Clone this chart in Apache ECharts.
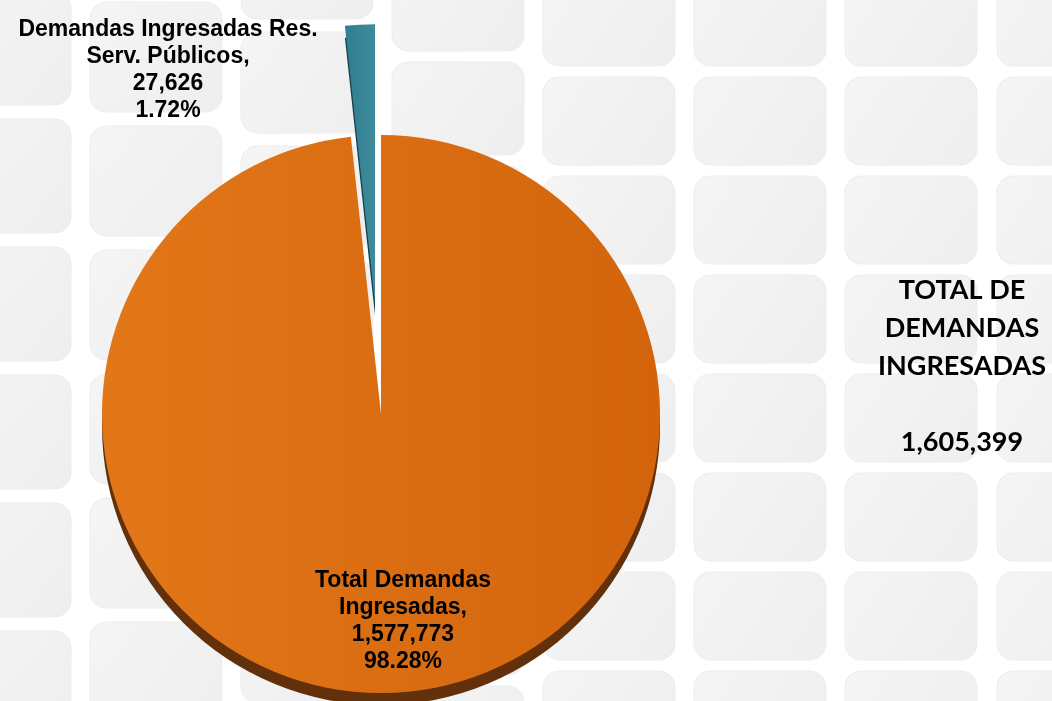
<!DOCTYPE html>
<html>
<head>
<meta charset="utf-8">
<title>Total de demandas ingresadas</title>
<script src="https://cdn.jsdelivr.net/npm/echarts@6/dist/echarts.min.js"></script>
<style>
  html, body { margin: 0; padding: 0; background: #fff; }
  #chart { width: 1052px; height: 701px; }
</style>
</head>
<body>
<div id="chart"></div>
<script>
// datos del gráfico
const categories = ['Total Demandas\nIngresadas', 'Demandas Ingresadas Res.\nServ. Públicos'];
const values = [1577773, 27626];
const totalTitle = 'TOTAL DE\nDEMANDAS\nINGRESADAS';

const fmt = n => n.toLocaleString('en-US');
const total = values.reduce((a, b) => a + b, 0);
const pct = v => (v / total * 100).toFixed(2) + '%';
const labelText = i => categories[i] + ',\n' + fmt(values[i]) + '\n' + pct(values[i]);

const chartDom = document.getElementById('chart');
const myChart = echarts.init(chartDom);

const colors = {
    orange: new echarts.graphic.LinearGradient(0, 0, 1, 0, [
        { offset: 0, color: '#E27719' },
        { offset: 1, color: '#D3640C' }
    ]),
    teal: new echarts.graphic.LinearGradient(0, 0, 1, 0, [
        { offset: 0, color: '#2F7D8F' },
        { offset: 1, color: '#3E8B9C' }
    ]),
    orangeShadow: '#62300A',
    tealShadow: '#163F49'
};

const labelFont = {
    fill: '#000',
    fontFamily: 'Liberation Sans',
    fontWeight: 'bold',
    fontSize: 23,
    lineHeight: 27
};

// fondo: cuadrícula de baldosas grises (decoración)
const colX = [-61, 90, 241, 392, 543, 694, 845, 997];
const colP = [128, 124, 114, 104, 99, 99, 99, 99];
const colY = [247, 250, 260, 270, 275, 275, 275, 275];
const tiles = [];
colX.forEach((x, c) => {
    for (let k = -3; k <= 4; k++) {
        const y = colY[c] + k * colP[c];
        tiles.push({
            type: 'rect',
            shape: { x: x, y: y, width: 132, height: Math.round(colP[c] * 0.89), r: 16 },
            style: {
                fill: new echarts.graphic.LinearGradient(0, 0, 1, 1, [
                    { offset: 0, color: '#F5F5F5' },
                    { offset: 1, color: '#EEEEEE' }
                ]),
                stroke: '#EDEDED',
                lineWidth: 1
            },
            silent: true
        });
    }
});

const pieData = categories.map((name, i) => ({
    name: name,
    value: values[i],
    selected: i === 1,
    itemStyle: { color: i === 0 ? colors.orange : colors.teal },
    label: { show: i === 0 }
}));

const shadowData = categories.map((name, i) => ({
    name: name,
    value: values[i],
    selected: i === 1,
    itemStyle: { color: i === 0 ? colors.orangeShadow : colors.tealShadow }
}));

const option = {
    backgroundColor: '#FFFFFF',
    animation: false,
    graphic: [
        { type: 'group', z: -10, silent: true, children: tiles },
        {
            // etiqueta de la porción separada
            type: 'text',
            z: 10,
            x: 168,
            y: 16,
            style: Object.assign({ text: labelText(1), align: 'center' }, labelFont)
        },
        {
            type: 'text',
            z: 10,
            x: 962,
            y: 271,
            style: {
                text: totalTitle + '\n\n' + fmt(total),
                fill: '#000',
                font: 'bold 27px Lato',
                lineHeight: 38,
                align: 'center'
            }
        }
    ],
    series: [
        {
            // sombra inferior (efecto 3D)
            type: 'pie',
            silent: true,
            z: 1,
            center: [381, 426],
            radius: 279,
            startAngle: 90,
            clockwise: true,
            selectedMode: 'single',
            selectedOffset: 111,
            label: { show: false },
            labelLine: { show: false },
            emphasis: { disabled: true },
            data: shadowData
        },
        {
            type: 'pie',
            z: 2,
            center: [381, 414],
            radius: 279,
            startAngle: 90,
            clockwise: true,
            selectedMode: 'single',
            selectedOffset: 111,
            avoidLabelOverlap: false,
            emphasis: { disabled: true },
            labelLine: { show: false },
            label: {
                show: true,
                position: 'inside',
                color: labelFont.fill,
                fontFamily: labelFont.fontFamily,
                fontWeight: labelFont.fontWeight,
                fontSize: labelFont.fontSize,
                lineHeight: labelFont.lineHeight,
                align: 'center',
                formatter: p => labelText(p.dataIndex)
            },
            labelLayout: () => ({
                x: 403,
                y: 621,
                align: 'center',
                verticalAlign: 'middle'
            }),
            data: pieData
        }
    ]
};

myChart.setOption(option);
window.addEventListener('resize', () => myChart.resize());
</script>
</body>
</html>
